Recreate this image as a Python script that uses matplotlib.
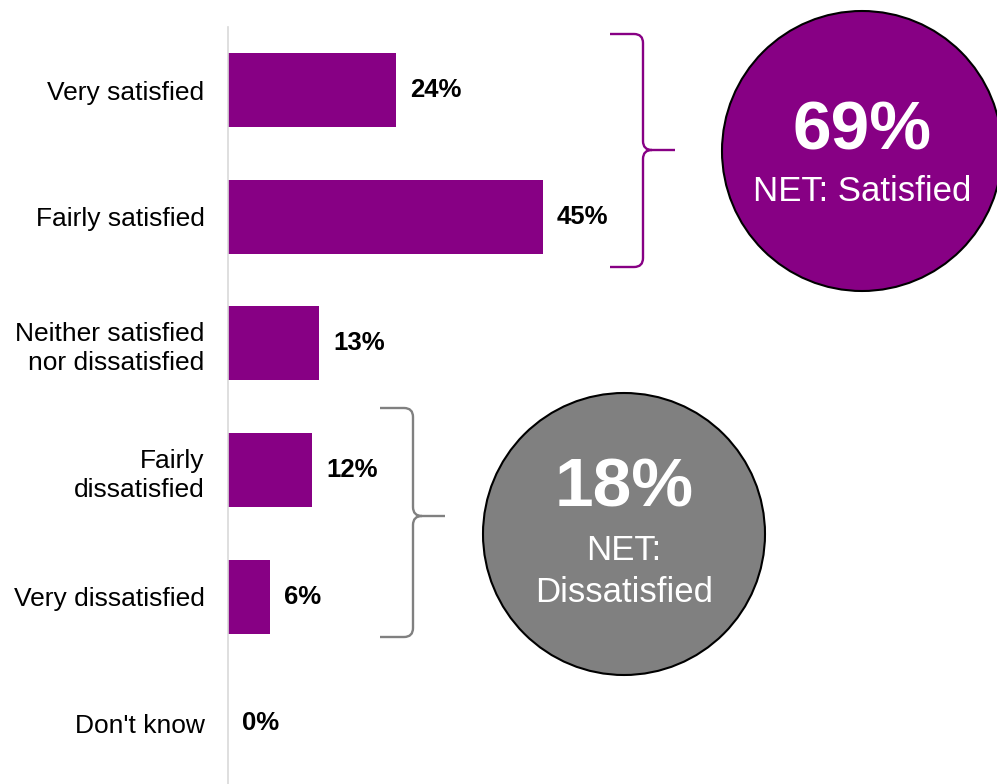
import matplotlib
matplotlib.use("Agg")
import matplotlib.pyplot as plt
from matplotlib.path import Path
from matplotlib.patches import PathPatch, Circle

plt.rcParams['font.family'] = ['Liberation Sans', 'DejaVu Sans']

categories = ["Very satisfied", "Fairly satisfied", "Neither satisfied\nnor dissatisfied",
              "Fairly\ndissatisfied", "Very dissatisfied", "Don't know"]
values = [24, 45, 13, 12, 6, 0]
value_labels = ["24%", "45%", "13%", "12%", "6%", "0%"]

satisfied_idx = [0, 1]
dissatisfied_idx = [3, 4]
net_satisfied = sum(values[i] for i in satisfied_idx)
net_dissatisfied = sum(values[i] for i in dissatisfied_idx)

PURPLE = "#870084"
GREY = "#808080"

W, H = 997, 784
fig = plt.figure(figsize=(W / 100, H / 100), dpi=100)

# bar axes: left edge at the category axis line
ax = fig.add_axes([228 / W, 0, 1 - 228 / W, 1 - 27 / H])
y = list(range(len(categories)))
ax.barh(y, values, height=0.585, color=PURPLE, linewidth=0)
ax.set_xlim(0, (W - 228) / 7.0)
ax.set_ylim(5.48, -0.5)
ax.set_yticks(y)
ax.set_yticklabels(categories, fontsize=19, linespacing=1.27)
for lab in ax.get_yticklabels():
    lab.set_horizontalalignment("right")
ax.tick_params(axis="y", length=0, pad=17)
ax.set_xticks([])
for s in ["top", "right", "bottom"]:
    ax.spines[s].set_visible(False)
ax.spines["left"].set_color("#d9d9d9")
ax.spines["left"].set_linewidth(1.2)

for yi, v, lab in zip(y, values, value_labels):
    ax.text(v + 2.0, yi, lab, va="center", ha="left", fontsize=18.5, fontweight="bold", color="black")

# overlay in pixel coordinates for braces and summary circles
ov = fig.add_axes([0, 0, 1, 1])
ov.set_xlim(0, W)
ov.set_ylim(H, 0)
ov.axis("off")
ov.patch.set_alpha(0)


def brace(ax_, x0, x1, x2, top, tip, bot, color, r=9):
    verts = [(x0, top), (x1 - r, top), (x1, top), (x1, top + r),
             (x1, tip - r), (x1, tip), (x1 + r, tip), (x2, tip),
             (x1 + r, tip), (x1, tip), (x1, tip + r),
             (x1, bot - r), (x1, bot), (x1 - r, bot), (x0, bot)]
    codes = [Path.MOVETO, Path.LINETO, Path.CURVE3, Path.CURVE3,
             Path.LINETO, Path.CURVE3, Path.CURVE3, Path.LINETO,
             Path.MOVETO, Path.CURVE3, Path.CURVE3,
             Path.LINETO, Path.CURVE3, Path.CURVE3, Path.LINETO]
    ax_.add_patch(PathPatch(Path(verts, codes), fill=False, edgecolor=color,
                            linewidth=1.7, capstyle="butt", joinstyle="round"))


brace(ov, 610, 643, 675, 34, 150, 267, PURPLE)
brace(ov, 380, 413, 445, 408, 516, 637, GREY)

ov.add_patch(Circle((862, 151), 140, facecolor=PURPLE, edgecolor="black", linewidth=1.5))
ov.text(862, 131, f"{net_satisfied}%", ha="center", va="center", color="white",
        fontsize=50, fontweight="bold")
ov.text(862, 191, "NET: Satisfied", ha="center", va="center", color="white", fontsize=25)

ov.add_patch(Circle((624, 534), 141, facecolor=GREY, edgecolor="black", linewidth=1.5))
ov.text(624, 488, f"{net_dissatisfied}%", ha="center", va="center", color="white",
        fontsize=50, fontweight="bold")
ov.text(624, 551, "NET:", ha="center", va="center", color="white", fontsize=25)
ov.text(624, 593, "Dissatisfied", ha="center", va="center", color="white", fontsize=25)

fig.savefig("out.png", dpi=100, facecolor="white")
